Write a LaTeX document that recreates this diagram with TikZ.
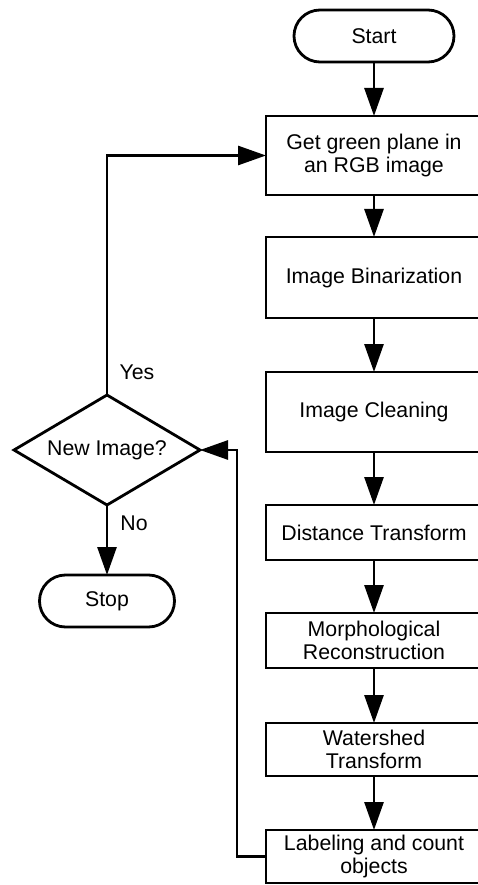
\documentclass[tikz,border=0pt]{standalone}
\usepackage{fontspec}
\setmainfont{Liberation Sans}
\usetikzlibrary{arrows.meta, positioning, shapes.geometric}
\definecolor{flowInk}{HTML}{000000}
\tikzset{
  arrowF/.style={-{Triangle[length=28pt, width=19pt]}, flowInk, line width=2.8pt},
  boxF/.style={rectangle, draw=flowInk, line width=2.8pt, fill=white,
               align=center, font=\fontsize{21.3}{23.5}\selectfont,
               inner sep=2pt, outer sep=0pt, minimum width=216pt},
  termF/.style={rectangle, rounded corners=26pt, draw=flowInk, line width=2.8pt,
                align=center, font=\fontsize{21.3}{23.5}\selectfont,
                outer sep=0pt, minimum height=52pt},
  decideF/.style={diamond, aspect=1.7, draw=flowInk, line width=2.8pt,
                  align=center, font=\fontsize{21.3}{23.5}\selectfont,
                  inner sep=0pt, outer sep=0pt, minimum width=186pt, minimum height=110pt},
  lblF/.style={font=\fontsize{21.3}{23.5}\selectfont, inner sep=0pt},
}
\begin{document}
\begin{tikzpicture}[node distance=54pt]
  \useasboundingbox (0,0) rectangle (477pt,-885pt);
  \node[termF, minimum width=160pt] (start) at (374pt,-36pt) {Start};
  \node[boxF, minimum height=79pt, below=54pt of start] (green) {Get green plane in\\an RGB image};
  \node[boxF, minimum height=81pt, below=42pt of green] (binar) {Image Binarization};
  \node[boxF, minimum height=80pt, below=of binar] (clean) {Image Cleaning};
  \node[boxF, minimum height=55pt, below=53pt of clean] (dist) {Distance Transform};
  \node[boxF, minimum height=55pt, below=53pt of dist] (morph) {Morphological\\Reconstruction};
  \node[boxF, minimum height=53pt, below=55pt of morph] (water) {Watershed\\Transform};
  \node[boxF, minimum height=53pt, below=of water] (count) {Labeling and count\\objects};
  \node[decideF] (newimg) at (107pt,-450pt) {New Image?};
  \node[termF, minimum width=135pt, below=70pt of newimg] (stop) {Stop};
  \node[lblF] (yes) at (137pt,-372pt) {Yes};
  \node[lblF] (no) at (134pt,-523pt) {No};
  \draw[arrowF] (start) -- (green);
  \draw[arrowF] (green) -- (binar);
  \draw[arrowF] (binar) -- (clean);
  \draw[arrowF] (clean) -- (dist);
  \draw[arrowF] (dist) -- (morph);
  \draw[arrowF] (morph) -- (water);
  \draw[arrowF] (water) -- (count);
  \draw[arrowF] (newimg) -- (stop);
  \draw[arrowF] (newimg.north) |- (green.west);
  \draw[arrowF] (count.west) -- ++(-29pt,0) |- (newimg.east);
\end{tikzpicture}
\end{document}
